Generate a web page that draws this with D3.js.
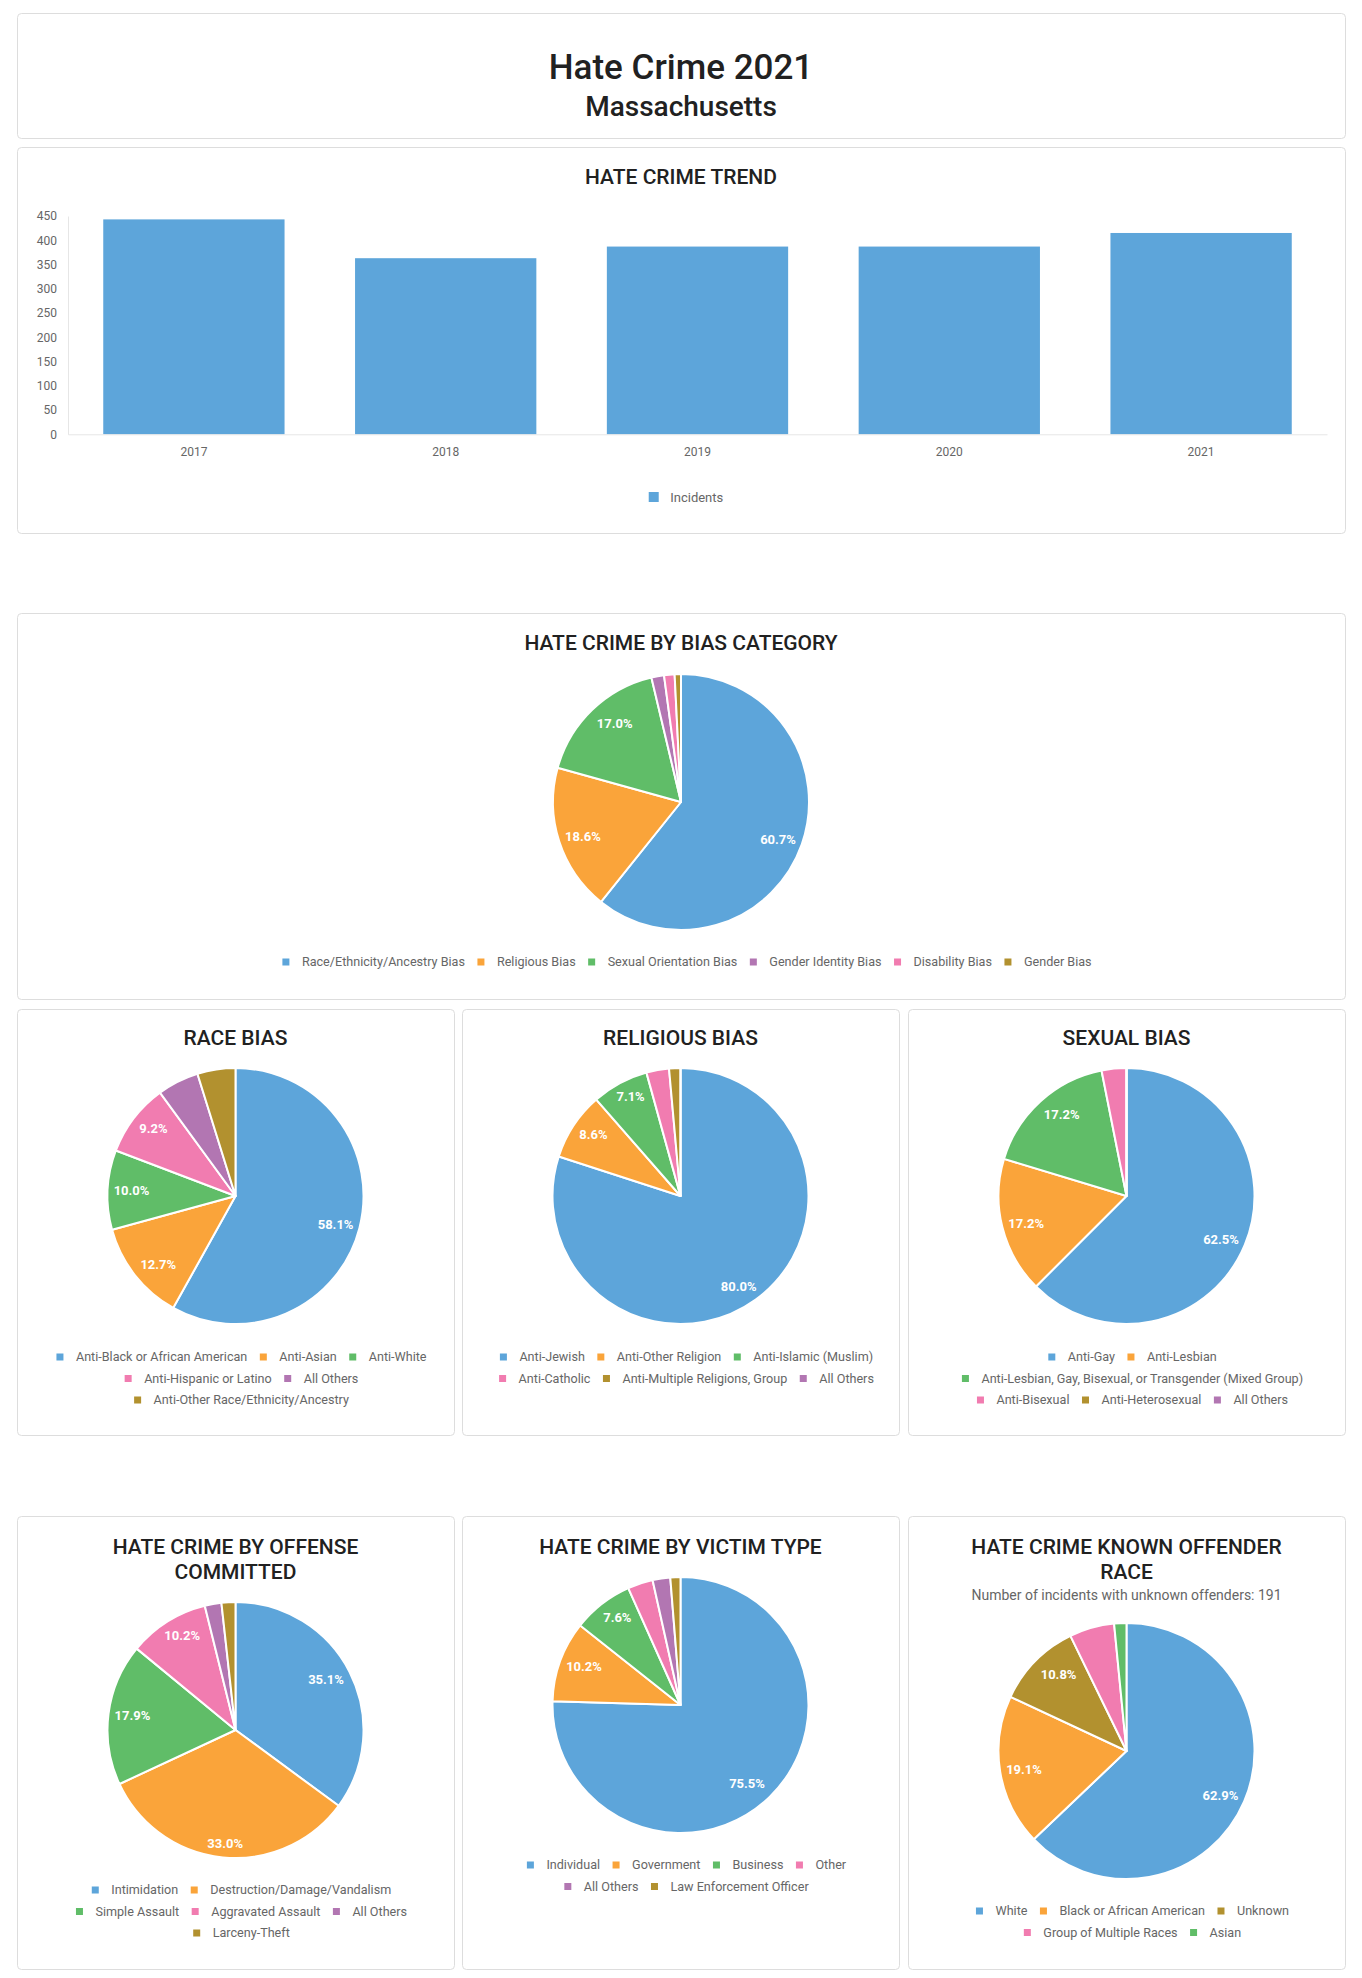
<!DOCTYPE html>
<html>
<head>
<meta charset="utf-8">
<script src="https://cdn.jsdelivr.net/npm/d3@7"></script>
<style>
  html, body { margin: 0; padding: 0; background: #fff; }
  body { font-family: Roboto, "Noto Sans", "DejaVu Sans", sans-serif; }
  svg { display: block; }
</style>
</head>
<body>
<svg id="page" width="1362" height="1978"></svg>
<script>
// ---------------- DATA ----------------
const years = ["2017", "2018", "2019", "2020", "2021"];
const incidents = [443, 363, 387, 387, 415];
const yTicks = [0, 50, 100, 150, 200, 250, 300, 350, 400, 450];

const biasLabels = ["Race/Ethnicity/Ancestry Bias", "Religious Bias", "Sexual Orientation Bias", "Gender Identity Bias", "Disability Bias", "Gender Bias"];
const biasValues = [229, 70, 64, 6, 5, 3];

const raceLabels = ["Anti-Black or African American", "Anti-Asian", "Anti-White", "Anti-Hispanic or Latino", "All Others", "Anti-Other Race/Ethnicity/Ancestry"];
const raceValues = [133, 29, 23, 21, 12, 11];

const religLabels = ["Anti-Jewish", "Anti-Other Religion", "Anti-Islamic (Muslim)", "Anti-Catholic", "Anti-Multiple Religions, Group", "All Others"];
const religValues = [56, 6, 5, 2, 1, 0];

const sexualLabels = ["Anti-Gay", "Anti-Lesbian", "Anti-Lesbian, Gay, Bisexual, or Transgender (Mixed Group)", "Anti-Bisexual", "Anti-Heterosexual", "All Others"];
const sexualValues = [40, 11, 11, 2, 0, 0];

const offenseLabels = ["Intimidation", "Destruction/Damage/Vandalism", "Simple Assault", "Aggravated Assault", "All Others", "Larceny-Theft"];
const offenseValues = [100, 94, 51, 29, 6, 5];

const victimLabels = ["Individual", "Government", "Business", "Other", "All Others", "Law Enforcement Officer"];
const victimValues = [237, 32, 24, 10, 7, 4];

const offenderLabels = ["White", "Black or African American", "Unknown", "Group of Multiple Races", "Asian"];
const offenderValues = [122, 37, 21, 11, 3];
const unknownOffenders = 191;

// ---------------- STYLE ----------------
const C = { blue: "#5DA5DA", orange: "#FAA43A", green: "#60BD68", pink: "#F17CB0", brown: "#B2912F", purple: "#B276B2" };
const TITLE_COLOR = "#212121";
const TEXT_GRAY = "#666";
const BORDER = "#dddddd";
const LEGEND_FS = 12.6;
const TITLE_FS = 21;

const svg = d3.select("#page");

function card(x, y, w, h) {
  svg.append("rect").attr("x", x + 0.5).attr("y", y + 0.5).attr("width", w).attr("height", h)
    .attr("rx", 4).attr("fill", "#fff").attr("stroke", BORDER).attr("stroke-width", 1);
}
function title(lines, cx, y0, size = TITLE_FS) {
  lines.forEach((t, i) => {
    svg.append("text").attr("x", cx).attr("y", y0 + i * 24.5).attr("text-anchor", "middle")
      .attr("font-size", size).attr("font-weight", 500).attr("fill", TITLE_COLOR).text(t);
  });
}

// ---------------- HEADER ----------------
card(17, 13, 1328, 125);
svg.append("text").attr("x", 681).attr("y", 79).attr("text-anchor", "middle")
  .attr("font-size", 35).attr("font-weight", 500).attr("fill", TITLE_COLOR).text("Hate Crime 2021");
svg.append("text").attr("x", 681).attr("y", 116).attr("text-anchor", "middle")
  .attr("font-size", 28).attr("font-weight", 500).attr("fill", TITLE_COLOR).text("Massachusetts");

// ---------------- TREND BAR CHART ----------------
card(17, 147, 1328, 386);
title(["HATE CRIME TREND"], 681, 184);
{
  const x = d3.scaleBand().domain(years).range([68, 1327]).paddingInner(0.28).paddingOuter(0.14);
  const y = d3.scaleLinear().domain([0, 450]).range([434.3, 216]);
  const g = svg.append("g");
  g.selectAll("rect.bar").data(years).enter().append("rect").attr("class", "bar")
    .attr("x", d => x(d)).attr("width", x.bandwidth())
    .attr("y", (d, i) => y(incidents[i])).attr("height", (d, i) => y(0) - y(incidents[i]))
    .attr("fill", C.blue);

  const yAxis = d3.axisLeft(y).tickValues(yTicks).tickSize(0).tickPadding(11);
  const ya = g.append("g").attr("transform", "translate(68,0)").call(yAxis);
  ya.select(".domain").attr("stroke", "#e6e6e6");
  ya.selectAll("text").attr("font-size", 12).attr("fill", TEXT_GRAY).attr("font-family", "Roboto");

  const xAxis = d3.axisBottom(x).tickSize(0).tickPadding(13);
  const xa = g.append("g").attr("transform", "translate(0,434.3)").call(xAxis);
  xa.select(".domain").attr("stroke", "#e6e6e6");
  xa.selectAll("text").attr("font-size", 12).attr("fill", TEXT_GRAY).attr("font-family", "Roboto");

  // legend
  const lt = svg.append("text").attr("font-size", 13).attr("fill", TEXT_GRAY).attr("dy", "0.35em").text("Incidents");
  const tw = lt.node().getComputedTextLength();
  const total = 10 + 11.5 + tw;
  const sx = 681 - total / 2 + 5;
  svg.append("rect").attr("x", sx).attr("y", 492).attr("width", 10).attr("height", 10).attr("fill", C.blue);
  lt.attr("x", sx + 21.5).attr("y", 497);
}

// ---------------- PIE HELPERS ----------------
function legend(labels, colors, cx, y0, maxW) {
  const tmp = svg.append("text").attr("font-size", LEGEND_FS);
  const widths = labels.map(l => { tmp.text(l); return tmp.node().getComputedTextLength(); });
  tmp.remove();
  const rows = [];
  let cur = [], curW = 0;
  labels.forEach((l, i) => {
    const iw = 19.5 + widths[i];
    const add = cur.length ? curW + 12.5 + iw : iw;
    if (cur.length && add > maxW) { rows.push({ items: cur, w: curW }); cur = [i]; curW = iw; }
    else { cur.push(i); curW = add; }
  });
  if (cur.length) rows.push({ items: cur, w: curW });
  const g = svg.append("g");
  rows.forEach((r, ri) => {
    const y = y0 + ri * 21.5;
    let xx = cx - r.w / 2 + 6;
    r.items.forEach(i => {
      g.append("rect").attr("x", xx).attr("y", y - 3.5).attr("width", 7).attr("height", 7).attr("fill", colors[i]);
      g.append("text").attr("x", xx + 19.5).attr("y", y).attr("dy", "0.35em")
        .attr("font-size", LEGEND_FS).attr("fill", TEXT_GRAY).text(labels[i]);
      xx += 19.5 + widths[i] + 12.5;
    });
  });
}

function pie(values, colors, cx, cy, r) {
  const total = d3.sum(values);
  const arcs = d3.pie().sort(null).value(d => d)(values);
  const arc = d3.arc().innerRadius(0).outerRadius(r);
  const g = svg.append("g").attr("transform", `translate(${cx},${cy})`);
  g.selectAll("path").data(arcs).enter().append("path")
    .attr("d", arc).attr("fill", (d, i) => colors[i])
    .attr("stroke", "#fff").attr("stroke-width", 2).attr("stroke-linejoin", "round");
  // percentage labels (anchor at outer edge, aligned inward)
  arcs.forEach((a, i) => {
    const pct = values[i] / total * 100;
    if (pct < 6) return;
    const txt = pct.toFixed(1) + "%";
    const t = g.append("text").attr("font-size", 13).attr("font-weight", 700).attr("fill", "#fff")
      .attr("text-anchor", "middle").attr("dy", "0.35em").text(txt);
    const w = t.node().getComputedTextLength();
    const mid = (a.startAngle + a.endAngle) / 2;
    const vx = Math.sin(mid), vy = -Math.cos(mid);
    const ax = vx * r, ay = vy * r;
    const ix = -vx, iy = -vy;
    const vs = 1 / Math.max(Math.abs(ix), Math.abs(iy));
    const halfW = w / 2 + 4, halfH = 13 * 1.2 / 2 + 4, off = 2;
    const px = ax + halfW * ix * vs + off * ix;
    const py = ay + halfH * iy * vs + off * iy;
    t.attr("x", px).attr("y", py);
  });
}

// ---------------- BIAS CATEGORY ----------------
card(17, 613, 1328, 386);
title(["HATE CRIME BY BIAS CATEGORY"], 681, 650);
{
  const cols = [C.blue, C.orange, C.green, C.purple, C.pink, C.brown];
  pie(biasValues, cols, 681, 802, 128);
  legend(biasLabels, cols, 681, 962, 1290);
}

// ---------------- ROW 1 ----------------
const colX = [17, 462, 908], colW = 437;
const colC = colX.map(x => x + colW / 2);

card(colX[0], 1009, colW, 426);
title(["RACE BIAS"], colC[0], 1045);
{
  const cols = [C.blue, C.orange, C.green, C.pink, C.purple, C.brown];
  pie(raceValues, cols, colC[0], 1196, 128);
  legend(raceLabels, cols, colC[0], 1357, 392);
}

card(colX[1], 1009, colW, 426);
title(["RELIGIOUS BIAS"], colC[1], 1045);
{
  const cols = [C.blue, C.orange, C.green, C.pink, C.brown, C.purple];
  pie(religValues, cols, colC[1], 1196, 128);
  legend(religLabels, cols, colC[1], 1357, 392);
}

card(colX[2], 1009, colW, 426);
title(["SEXUAL BIAS"], colC[2], 1045);
{
  const cols = [C.blue, C.orange, C.green, C.pink, C.brown, C.purple];
  pie(sexualValues, cols, colC[2], 1196, 128);
  legend(sexualLabels, cols, colC[2], 1357, 392);
}

// ---------------- ROW 2 ----------------
card(colX[0], 1516, colW, 453);
title(["HATE CRIME BY OFFENSE", "COMMITTED"], colC[0], 1554);
{
  const cols = [C.blue, C.orange, C.green, C.pink, C.purple, C.brown];
  pie(offenseValues, cols, colC[0], 1730, 128);
  legend(offenseLabels, cols, colC[0], 1890, 392);
}

card(colX[1], 1516, colW, 453);
title(["HATE CRIME BY VICTIM TYPE"], colC[1], 1554);
{
  const cols = [C.blue, C.orange, C.green, C.pink, C.purple, C.brown];
  pie(victimValues, cols, colC[1], 1705, 128);
  legend(victimLabels, cols, colC[1], 1865, 392);
}

card(colX[2], 1516, colW, 453);
title(["HATE CRIME KNOWN OFFENDER", "RACE"], colC[2], 1554);
svg.append("text").attr("x", colC[2]).attr("y", 1600).attr("text-anchor", "middle")
  .attr("font-size", 14).attr("fill", TEXT_GRAY).text("Number of incidents with unknown offenders: " + unknownOffenders);
{
  const cols = [C.blue, C.orange, C.brown, C.pink, C.green];
  pie(offenderValues, cols, colC[2], 1751, 128);
  legend(offenderLabels, cols, colC[2], 1911, 392);
}
</script>
</body>
</html>
